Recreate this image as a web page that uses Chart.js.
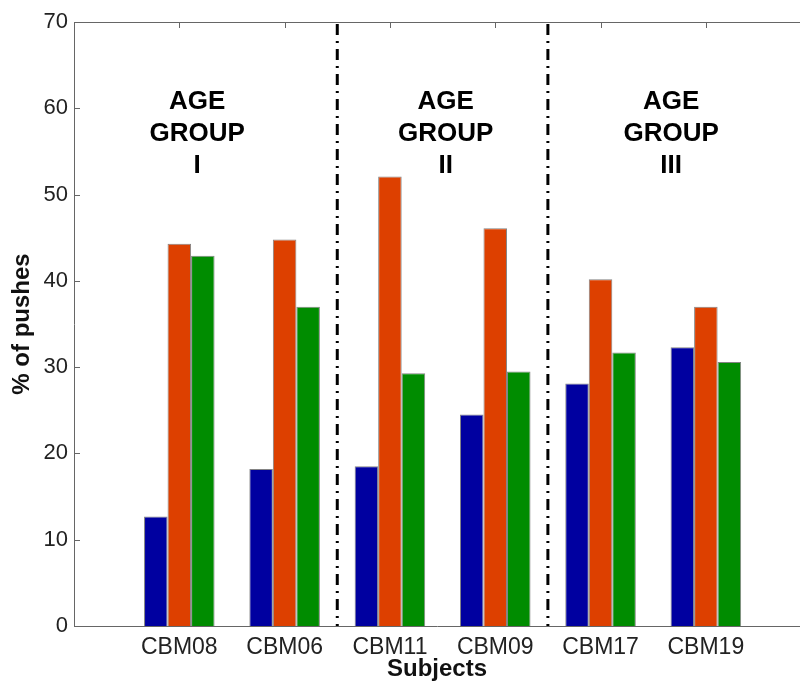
<!DOCTYPE html>
<html lang="en">
<head>
    <meta charset="UTF-8">
    <title>% of pushes by subject</title>
    <script src="https://cdn.jsdelivr.net/npm/chart.js"></script>
    <style>
        body {
            margin: 0;
            background: #fff;
        }
        .chart-container {
            width: 800px;
            height: 684px;
            position: relative;
        }
    </style>
</head>
<body>
    <div class="chart-container">
        <canvas id="pushChart"></canvas>
    </div>

    <script>
        // data
        const subjects = ['CBM08', 'CBM06', 'CBM11', 'CBM09', 'CBM17', 'CBM19'];
        const blueValues = [12.7, 18.2, 18.5, 24.5, 28.1, 32.3];
        const orangeValues = [44.3, 44.8, 52.1, 46.1, 40.2, 37.0];
        const greenValues = [42.9, 37.0, 29.3, 29.5, 31.7, 30.6];
        const yTicks = [0, 10, 20, 30, 40, 50, 60, 70];
        const separators = [2.5, 4.5];
        const groupLabels = [['AGE', 'GROUP', 'I'], ['AGE', 'GROUP', 'II'], ['AGE', 'GROUP', 'III']];

        const FONT = '"Liberation Sans", Arial, Helvetica, sans-serif';

        function toPoints(values) {
            return values.map((v, i) => ({ x: i + 1, y: v }));
        }

        // matlab style frame: top border, inward ticks, dash-dot separators, group text
        const matlabFrame = {
            id: 'matlabFrame',
            beforeDatasetsDraw(chart) {
                const { ctx, chartArea, scales } = chart;
                ctx.save();
                ctx.strokeStyle = '#666';
                ctx.lineWidth = 1;
                ctx.beginPath();
                scales.x.ticks.forEach(t => {
                    const px = Math.round(scales.x.getPixelForValue(t.value)) + 0.5;
                    ctx.moveTo(px, chartArea.bottom);
                    ctx.lineTo(px, chartArea.bottom - 6);
                });
                ctx.stroke();
                ctx.restore();
            },
            afterDatasetsDraw(chart, args, opts) {
                const { ctx, chartArea, scales } = chart;
                const { left, right, top, bottom } = chartArea;
                ctx.save();

                // top border
                ctx.strokeStyle = '#666';
                ctx.lineWidth = 1;
                ctx.beginPath();
                ctx.moveTo(left, Math.round(top) + 0.5);
                ctx.lineTo(right, Math.round(top) + 0.5);

                // ticks pointing into the plot
                yTicks.forEach(v => {
                    const py = Math.round(scales.y.getPixelForValue(v)) + 0.5;
                    ctx.moveTo(left, py);
                    ctx.lineTo(left + 6, py);
                });
                scales.x.ticks.forEach(t => {
                    const px = Math.round(scales.x.getPixelForValue(t.value)) + 0.5;
                    ctx.moveTo(px, top);
                    ctx.lineTo(px, top + 6);
                });
                ctx.stroke();

                // group separators
                ctx.strokeStyle = '#000';
                ctx.lineWidth = 3;
                ctx.setLineDash([11, 6, 2, 6]);
                separators.forEach(s => {
                    const px = scales.x.getPixelForValue(s);
                    ctx.beginPath();
                    ctx.moveTo(px, top + 2);
                    ctx.lineTo(px, bottom);
                    ctx.stroke();
                });
                ctx.setLineDash([]);

                // age group labels
                ctx.fillStyle = '#000';
                ctx.font = 'bold ' + opts.fontSize + 'px ' + FONT;
                ctx.textAlign = 'center';
                ctx.textBaseline = 'middle';
                groupLabels.forEach((lines, i) => {
                    const px = scales.x.getPixelForValue(opts.xs[i]);
                    const py = scales.y.getPixelForValue(opts.y);
                    lines.forEach((line, j) => {
                        ctx.fillText(line, px, py + j * opts.lineGap);
                    });
                });
                ctx.restore();
            }
        };

        function renderChart() {
            const ctx = document.getElementById('pushChart').getContext('2d');
            const barStyle = {
                borderColor: 'rgba(50, 50, 50, 0.6)',
                borderWidth: 1,
                categoryPercentage: 0.67,
                barPercentage: 1.0
            };

            new Chart(ctx, {
                type: 'bar',
                data: {
                    datasets: [
                        Object.assign({ label: 'blue', data: toPoints(blueValues), backgroundColor: '#0000a0' }, barStyle),
                        Object.assign({ label: 'orange', data: toPoints(orangeValues), backgroundColor: '#dd4000' }, barStyle),
                        Object.assign({ label: 'green', data: toPoints(greenValues), backgroundColor: '#008c00' }, barStyle)
                    ]
                },
                options: {
                    responsive: true,
                    maintainAspectRatio: false,
                    animation: false,
                    layout: { padding: { top: 22, right: 0, bottom: 0, left: 0 } },
                    plugins: {
                        legend: { display: false },
                        tooltip: { enabled: false },
                        matlabFrame: { xs: [1.17, 3.53, 5.67], y: 60.8, lineGap: 32, fontSize: 26 }
                    },
                    scales: {
                        x: {
                            type: 'linear',
                            min: 0,
                            max: 6.894,
                            offset: false,
                            afterBuildTicks: scale => {
                                scale.ticks = subjects.map((s, i) => ({ value: i + 1 }));
                            },
                            afterFit: scale => { scale.height = 58; },
                            grid: { display: false, drawTicks: false },
                            border: { display: true, color: '#666', width: 1 },
                            ticks: {
                                autoSkip: false,
                                maxRotation: 0,
                                padding: 8,
                                color: '#222',
                                font: { family: FONT, size: 23 },
                                callback: v => subjects[v - 1] || ''
                            },
                            title: {
                                display: true,
                                text: 'Subjects',
                                color: '#111',
                                font: { family: FONT, size: 24, weight: 'bold' },
                                padding: { top: 0, bottom: 0 }
                            }
                        },
                        y: {
                            min: 0,
                            max: 70,
                            afterBuildTicks: scale => {
                                scale.ticks = yTicks.map(v => ({ value: v }));
                            },
                            afterFit: scale => { scale.width = 74; },
                            grid: { display: false, drawTicks: false },
                            border: { display: true, color: '#666', width: 1 },
                            ticks: {
                                padding: 6,
                                color: '#222',
                                font: { family: FONT, size: 22 }
                            },
                            title: {
                                display: true,
                                text: '% of pushes',
                                color: '#111',
                                font: { family: FONT, size: 24, weight: 'bold' },
                                padding: { top: 8, bottom: 0 }
                            }
                        }
                    }
                },
                plugins: [matlabFrame]
            });
        }

        window.onload = renderChart;
    </script>
</body>
</html>
